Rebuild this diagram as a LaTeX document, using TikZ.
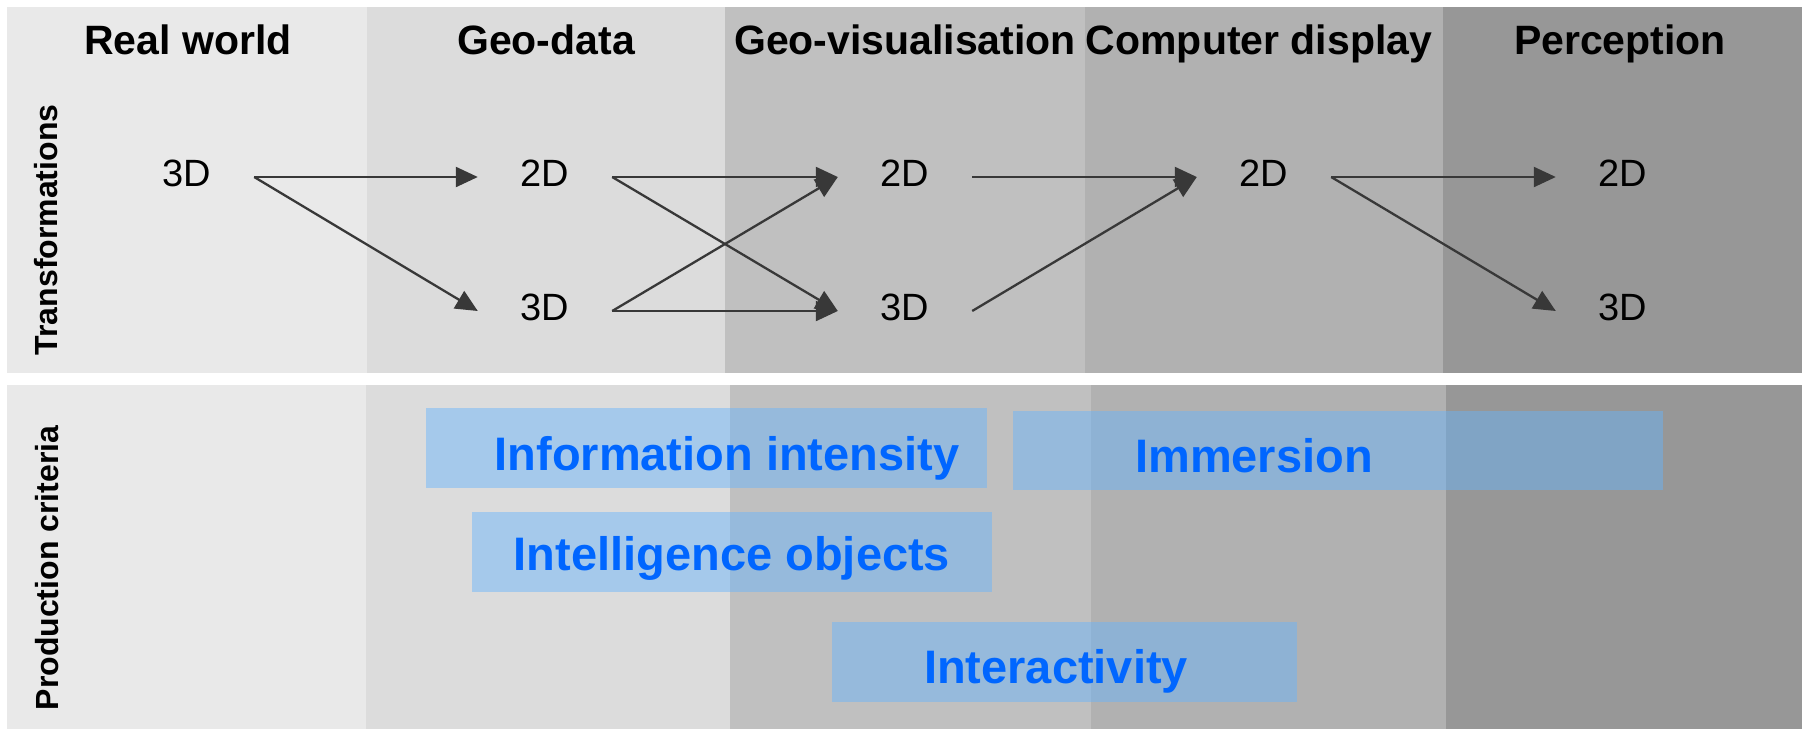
\documentclass[tikz,border=0pt]{standalone}
\usepackage{fontspec}
\setmainfont{Liberation Sans}
\usetikzlibrary{arrows.meta}
\definecolor{colA}{HTML}{E9E9E9}
\definecolor{colB}{HTML}{DCDCDC}
\definecolor{colC}{HTML}{C0C0C0}
\definecolor{colD}{HTML}{B1B1B1}
\definecolor{colE}{HTML}{979797}
\definecolor{arrowgray}{HTML}{383838}
\definecolor{critblue}{RGB}{100,180,255}
\definecolor{textblue}{RGB}{0,102,255}
\begin{document}
\begin{tikzpicture}[x=1pt,y=-1pt]
\tikzset{
  hdr/.style={font=\fontsize{41}{48}\selectfont\bfseries, anchor=base, inner sep=0pt},
  dimnode/.style={font=\fontsize{38}{44}\selectfont, minimum width=134pt, inner sep=0pt},
  arr/.style={draw=arrowgray, line width=2.3pt, -{Triangle[length=22pt,width=20pt]}},
  critbox/.style={fill=critblue, fill opacity=0.45, draw=none, inner sep=0pt, anchor=north west},
  crittext/.style={font=\fontsize{47}{54}\selectfont\bfseries, text=textblue, anchor=base, inner sep=0pt},
  side/.style={font=\fontsize{32}{38}\selectfont\bfseries, rotate=90, inner sep=0pt},
}
\useasboundingbox (0,0) rectangle (1805,732);
\fill[white] (0,0) rectangle (1805,732);
% top panel columns
\fill[colA] (7,7) rectangle (367,373);
\fill[colB] (367,7) rectangle (725,373);
\fill[colC] (725,7) rectangle (1085,373);
\fill[colD] (1085,7) rectangle (1443,373);
\fill[colE] (1443,7) rectangle (1802,373);
% bottom panel columns
\fill[colA] (7,385) rectangle (366,729);
\fill[colB] (366,385) rectangle (730,729);
\fill[colC] (730,385) rectangle (1091,729);
\fill[colD] (1091,385) rectangle (1446,729);
\fill[colE] (1446,385) rectangle (1802,729);

% headers
\node[hdr] (h1) at (188,54) {Real world};
\node[hdr] (h2) at (546,54) {Geo-data};
\node[hdr] (h3) at (905,54) {Geo-visualisation};
\node[hdr] (h4) at (1259,54) {Computer display};
\node[hdr] (h5) at (1620,54) {Perception};

% side labels
\node[side] (s1) at (46,230) {Transformations};
\node[side] (s2) at (47,568) {Production criteria};

% dimension nodes
\node[dimnode] (r3) at (187,173) {3D};
\node[dimnode] (g2) at (545,173) {2D};
\node[dimnode] (g3) at (545,307) {3D};
\node[dimnode] (v2) at (905,173) {2D};
\node[dimnode] (v3) at (905,307) {3D};
\node[dimnode] (c2) at (1264,173) {2D};
\node[dimnode] (p2) at (1623,173) {2D};
\node[dimnode] (p3) at (1623,307) {3D};

% arrows
\draw[arr] ([yshift=-4pt]r3.east) -- ([yshift=-4pt]g2.west);
\draw[arr] ([yshift=-4pt]r3.east) -- ([yshift=-4pt]g3.west);
\draw[arr] ([yshift=-4pt]g2.east) -- ([yshift=-4pt]v2.west);
\draw[arr] ([yshift=-4pt]g2.east) -- ([yshift=-4pt]v3.west);
\draw[arr] ([yshift=-4pt]g3.east) -- ([yshift=-4pt]v2.west);
\draw[arr] ([yshift=-4pt]g3.east) -- ([yshift=-4pt]v3.west);
\draw[arr] ([yshift=-4pt]v2.east) -- ([yshift=-4pt]c2.west);
\draw[arr] ([yshift=-4pt]v3.east) -- ([yshift=-4pt]c2.west);
\draw[arr] ([yshift=-4pt]c2.east) -- ([yshift=-4pt]p2.west);
\draw[arr] ([yshift=-4pt]c2.east) -- ([yshift=-4pt]p3.west);

% production criteria boxes
\node[critbox, minimum width=561pt, minimum height=80pt] (b1) at (426,408) {};
\node[critbox, minimum width=520pt, minimum height=80pt] (b2) at (472,512) {};
\node[critbox, minimum width=650pt, minimum height=79pt] (b3) at (1013,411) {};
\node[critbox, minimum width=465pt, minimum height=80pt] (b4) at (832,622) {};

\node[crittext] (t1) at (727,470) {Information intensity};
\node[crittext] (t2) at (732,570) {Intelligence objects};
\node[crittext] (t3) at (1254,472) {Immersion};
\node[crittext] (t4) at (1056,683) {Interactivity};
\end{tikzpicture}
\end{document}
